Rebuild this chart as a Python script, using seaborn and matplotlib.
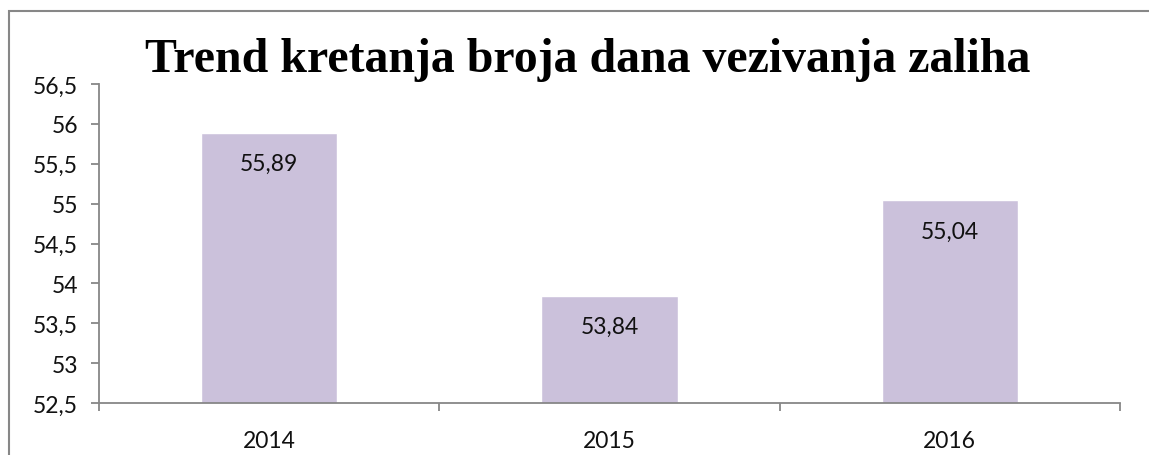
import matplotlib.pyplot as plt
import matplotlib.patches as mpatches
import pandas as pd
import seaborn as sns

# data
years = ['2014', '2015', '2016']
days = [55.89, 53.84, 55.04]
title = 'Trend kretanja broja dana vezivanja zaliha'

df = pd.DataFrame({'year': years, 'days': days})

sns.set_style('white')
plt.rcParams['font.family'] = ['Lato', 'DejaVu Sans']

W, H = 1149, 456
fig = plt.figure(figsize=(W / 100, H / 100), dpi=100)
ax = fig.add_axes([99 / W, 1 - 404 / H, (1120 - 99) / W, (404 - 85) / H])

sns.barplot(data=df, x='year', y='days', color='#CBC1DB', width=0.4,
            saturation=1, ax=ax)

ax.set_ylim(52.5, 56.5)
ax.set_xlim(-0.5, 2.5)
ax.set_yticks([52.5 + 0.5 * i for i in range(9)])
ax.set_yticklabels([('%g' % (52.5 + 0.5 * i)).replace('.', ',') for i in range(9)],
                   fontsize=16.5, color='#111111')
ax.set_xticks([0, 1, 2])
ax.set_xticklabels(years, fontsize=16.5, color='#111111')
ax.set_xlabel('')
ax.set_ylabel('')

# category separator ticks on x axis
ax.set_xticks([-0.5, 0.5, 1.5, 2.5], minor=True)
ax.tick_params(axis='x', which='major', bottom=False, pad=16)
ax.tick_params(axis='x', which='minor', bottom=True, length=6, width=1.3,
               color='#878787', direction='out')
ax.tick_params(axis='y', left=True, length=6, width=1.3, color='#878787',
               direction='out', pad=9)

for s in ['top', 'right']:
    ax.spines[s].set_visible(False)
for s in ['left', 'bottom']:
    ax.spines[s].set_color('#878787')
    ax.spines[s].set_linewidth(1.3)

for i, v in enumerate(days):
    ax.annotate(('%.2f' % v).replace('.', ','), (i, v), xytext=(0, -22),
                textcoords='offset points', ha='center', va='center',
                fontsize=16.5, color='#111111')

fig.text(0.5115, 1 - 60 / H, title, ha='center', va='center', color='black',
         fontsize=34.5, fontweight='bold', family='Liberation Serif')

# outer chart border
fig.patches.append(mpatches.Rectangle((8.5 / W, -0.1), 1.2, (H - 11.5) / H + 0.1,
                                      transform=fig.transFigure, fill=False,
                                      edgecolor='#878787', linewidth=1.5))

fig.savefig('out.png', dpi=100)
